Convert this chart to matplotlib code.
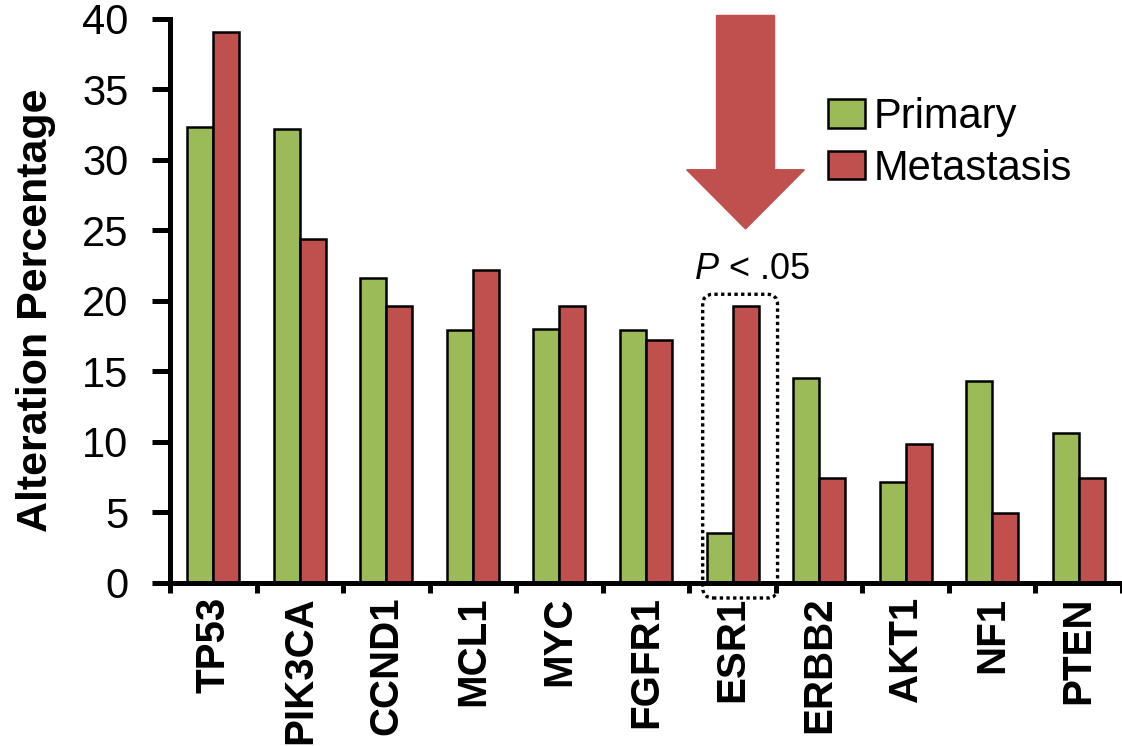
import numpy as np
import matplotlib
matplotlib.use("Agg")
import matplotlib.pyplot as plt
from matplotlib.patches import FancyArrow, FancyBboxPatch

plt.rcParams['font.family'] = ['Liberation Sans', 'DejaVu Sans']
plt.rcParams['mathtext.fontset'] = 'custom'
plt.rcParams['mathtext.it'] = 'Liberation Sans:italic'
plt.rcParams['mathtext.rm'] = 'Liberation Sans'

genes = ["TP53", "PIK3CA", "CCND1", "MCL1", "MYC", "FGFR1", "ESR1", "ERBB2", "AKT1", "NF1", "PTEN"]
primary = [32.3, 32.2, 21.6, 17.9, 18.0, 17.9, 3.5, 14.5, 7.1, 14.3, 10.6]
metastasis = [39.1, 24.4, 19.6, 22.2, 19.6, 17.2, 19.6, 7.4, 9.8, 4.9, 7.4]
yticks = [0, 5, 10, 15, 20, 25, 30, 35, 40]

green = "#9BBB59"
red = "#C0504D"

fig = plt.figure(figsize=(11.22, 7.46), dpi=100)
ax = fig.add_axes([170/1122, 163.5/746, 952/1122, 563.5/746])

x = np.arange(len(genes))
w = 0.3
ax.bar(x - w/2, primary, w, color=green, edgecolor="black", linewidth=1.8, label="Primary")
ax.bar(x + w/2, metastasis, w, color=red, edgecolor="black", linewidth=1.8, label="Metastasis")

ax.set_xlim(-0.5, len(genes) - 0.5)
ax.set_ylim(0, 40)
ax.set_yticks(yticks)
ax.set_yticklabels([str(v) for v in yticks], fontsize=30)
ax.set_xticks(x)
ax.set_xticklabels(genes, rotation=90, fontsize=29, fontweight="bold")
ax.set_xticks(np.arange(-0.5, len(genes), 1), minor=True)
ax.tick_params(axis="x", which="major", length=0, pad=10)
ax.tick_params(axis="x", which="minor", length=7, width=3.6, direction="out")
ax.tick_params(axis="y", length=13, width=3.6, direction="out", pad=17)

for s in ["top", "right"]:
    ax.spines[s].set_visible(False)
for s in ["left", "bottom"]:
    ax.spines[s].set_linewidth(3.6)

ax.set_ylabel("Alteration Percentage", fontsize=31, fontweight="bold")
ax.yaxis.set_label_coords(-0.12, 0.484)

ax.legend(loc="upper left", bbox_to_anchor=(828/1122, 1 - 97/746), bbox_transform=fig.transFigure,
          frameon=False, fontsize=30, handlelength=0.89, handleheight=0.67,
          handletextpad=0.2, labelspacing=0.28, borderpad=0, borderaxespad=0)

# significance annotation on ESR1
i = genes.index("ESR1")
arr = FancyArrow(i + w/2, 40.25, 0, -15.15, width=0.67, head_width=1.36, head_length=4.2,
                 length_includes_head=True, color=red, clip_on=False)
ax.add_patch(arr)
ax.text(i + 0.22, 22.2, r"$\mathit{P}$ < .05", fontsize=26, ha="center", va="center")
box = FancyBboxPatch((i - 0.345, -1.1), 0.865, 21.56,
                     boxstyle="round,pad=0,rounding_size=0.12", mutation_aspect=86.6/14.05,
                     fill=False, edgecolor="black", linestyle=(0, (1, 1)), linewidth=2.4, clip_on=False)
ax.add_patch(box)

fig.savefig("out.png", dpi=100)
